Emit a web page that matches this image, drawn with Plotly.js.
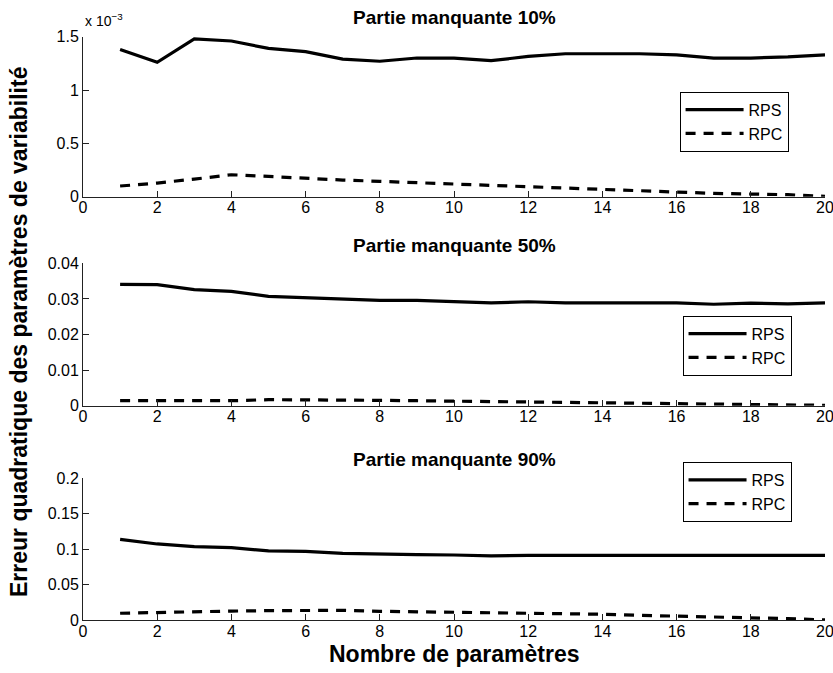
<!DOCTYPE html>
<html>
<head>
<meta charset="utf-8">
<script src="https://cdn.plot.ly/plotly-3.0.1.min.js"></script>
<style>html,body{margin:0;padding:0;background:#fff;}#chart{width:833px;height:673px;}</style>
</head>
<body>
<div id="chart"></div>
<script>
const nbParams = [1,2,3,4,5,6,7,8,9,10,11,12,13,14,15,16,17,18,19,20];

const rps10 = [0.00138,0.00126,0.00148,0.00146,0.00139,0.00136,0.00129,0.00127,0.00130,0.00130,0.001275,0.001315,0.00134,0.00134,0.00134,0.00133,0.00130,0.00130,0.00131,0.00133];
const rpc10 = [0.000100,0.000128,0.000165,0.000206,0.000190,0.000172,0.000156,0.000144,0.000131,0.000122,0.000109,0.000094,0.000081,0.000066,0.000053,0.000041,0.000031,0.000025,0.000019,0.000003];

const rps50 = [0.0341,0.0340,0.0326,0.0321,0.0307,0.0304,0.0299,0.0296,0.0296,0.0292,0.0289,0.0292,0.0289,0.0289,0.0289,0.0289,0.0285,0.0288,0.0286,0.0289];
const rpc50 = [0.0014,0.0014,0.0014,0.0014,0.0017,0.0017,0.0016,0.0015,0.0014,0.0013,0.0011,0.0009,0.0008,0.00075,0.0007,0.0006,0.0005,0.0004,0.0003,0.0001];

const rps90 = [0.114,0.1075,0.1038,0.1023,0.0977,0.0972,0.0944,0.0930,0.0925,0.0920,0.0906,0.0915,0.0915,0.0915,0.0913,0.0913,0.0906,0.0910,0.0910,0.0915];
const rpc90 = [0.0099,0.0113,0.0120,0.0130,0.0136,0.0140,0.0140,0.0127,0.0120,0.0120,0.0117,0.0108,0.0099,0.0085,0.0070,0.0060,0.0047,0.0038,0.0023,0.0005];

const seriesNames = ['RPS','RPC'];
const panelTitles = ['Partie manquante 10%','Partie manquante 50%','Partie manquante 90%'];
const xLabel = 'Nombre de paramètres';
const yLabel = 'Erreur quadratique des paramètres de variabilité';
const topTickVals = [0,0.0005,0.001,0.0015];
const topTickText = ['0','0.5','1','1.5'];

const FONT = 'Liberation Sans, Arial, Helvetica, sans-serif';
const LW = 3.2;
const DASH = '10px,8px';

function pair(rps, rpc, idx) {
  const xa = idx === 1 ? 'x' : 'x' + idx;
  const ya = idx === 1 ? 'y' : 'y' + idx;
  const lg = idx === 1 ? 'legend' : 'legend' + idx;
  return [
    {x: nbParams, y: rps, type:'scatter', mode:'lines', name: seriesNames[0], xaxis: xa, yaxis: ya, legend: lg,
     line:{color:'#000', width:LW}},
    {x: nbParams, y: rpc, type:'scatter', mode:'lines', name: seriesNames[1], xaxis: xa, yaxis: ya, legend: lg,
     line:{color:'#000', width:LW, dash:DASH}}
  ];
}

const data = [].concat(pair(rps10, rpc10, 1), pair(rps50, rpc50, 2), pair(rps90, rpc90, 3));

const H = 673;
function py(p) { return 1 - p / H; }

const axCommon = {
  showline:true, linecolor:'#222', linewidth:1, mirror:false,
  ticks:'inside', ticklen:6, tickcolor:'#222', tickwidth:1,
  showgrid:false, zeroline:false, ticklabeloverflow:'allow',
  tickfont:{family:FONT, size:16, color:'#000'}, fixedrange:true
};
function xax(anchor) {
  return Object.assign({}, axCommon, {domain:[0,1], range:[0,20], dtick:2, tick0:0, anchor: anchor, ticklabelstandoff:-4});
}

const legCommon = {
  xanchor:'left', yanchor:'top', bgcolor:'#fff', bordercolor:'#000', borderwidth:1,
  font:{family:FONT, size:16, color:'#000'}, traceorder:'normal', tracegroupgap:0, itemwidth:58
};

const layout = {
  width:833, height:673,
  margin:{l:83, r:8, t:0, b:0},
  paper_bgcolor:'#fff', plot_bgcolor:'#fff',
  font:{family:FONT, color:'#000'},
  showlegend:true,
  xaxis: xax('y'),
  xaxis2: xax('y2'),
  xaxis3: xax('y3'),
  yaxis: Object.assign({}, axCommon, {domain:[py(196.7), py(36.7)], range:[0,0.0015], tickvals: topTickVals, ticktext: topTickText, anchor:'x'}),
  yaxis2: Object.assign({}, axCommon, {domain:[py(405.7), py(263.3)], range:[0,0.04], dtick:0.01, tick0:0, anchor:'x2'}),
  yaxis3: Object.assign({}, axCommon, {domain:[py(620.3), py(478.3)], range:[0,0.2], dtick:0.05, tick0:0, anchor:'x3'}),
  legend: Object.assign({}, legCommon, {x:0.804, y:py(91.7)}),
  legend2: Object.assign({}, legCommon, {x:0.808, y:py(315.7)}),
  legend3: Object.assign({}, legCommon, {x:0.808, y:py(462)}),
  annotations: [
    {xref:'paper', yref:'paper', x:0.5, y:py(17), xanchor:'center', yanchor:'middle', showarrow:false,
     text:'<b>' + panelTitles[0] + '</b>', font:{family:FONT, size:19, color:'#000'}},
    {xref:'paper', yref:'paper', x:0.5, y:py(245), xanchor:'center', yanchor:'middle', showarrow:false,
     text:'<b>' + panelTitles[1] + '</b>', font:{family:FONT, size:19, color:'#000'}},
    {xref:'paper', yref:'paper', x:0.5, y:py(459), xanchor:'center', yanchor:'middle', showarrow:false,
     text:'<b>' + panelTitles[2] + '</b>', font:{family:FONT, size:19, color:'#000'}},
    {xref:'paper', yref:'paper', x:0.5, y:py(654), xanchor:'center', yanchor:'middle', showarrow:false,
     text:'<b>' + xLabel + '</b>', font:{family:FONT, size:23, color:'#000'}},
    {xref:'paper', yref:'paper', x:(19-83)/742.4, y:py(332), xanchor:'center', yanchor:'middle', showarrow:false, textangle:-90,
     text:'<b>' + yLabel + '</b>', font:{family:FONT, size:23, color:'#000'}},
    {xref:'paper', yref:'paper', x:0, y:py(20), xanchor:'left', yanchor:'middle', showarrow:false,
     text:'x 10<sup>−3</sup>', font:{family:FONT, size:14, color:'#000'}}
  ]
};

Plotly.newPlot('chart', data, layout, {displayModeBar:false, staticPlot:true});
</script>
</body>
</html>
